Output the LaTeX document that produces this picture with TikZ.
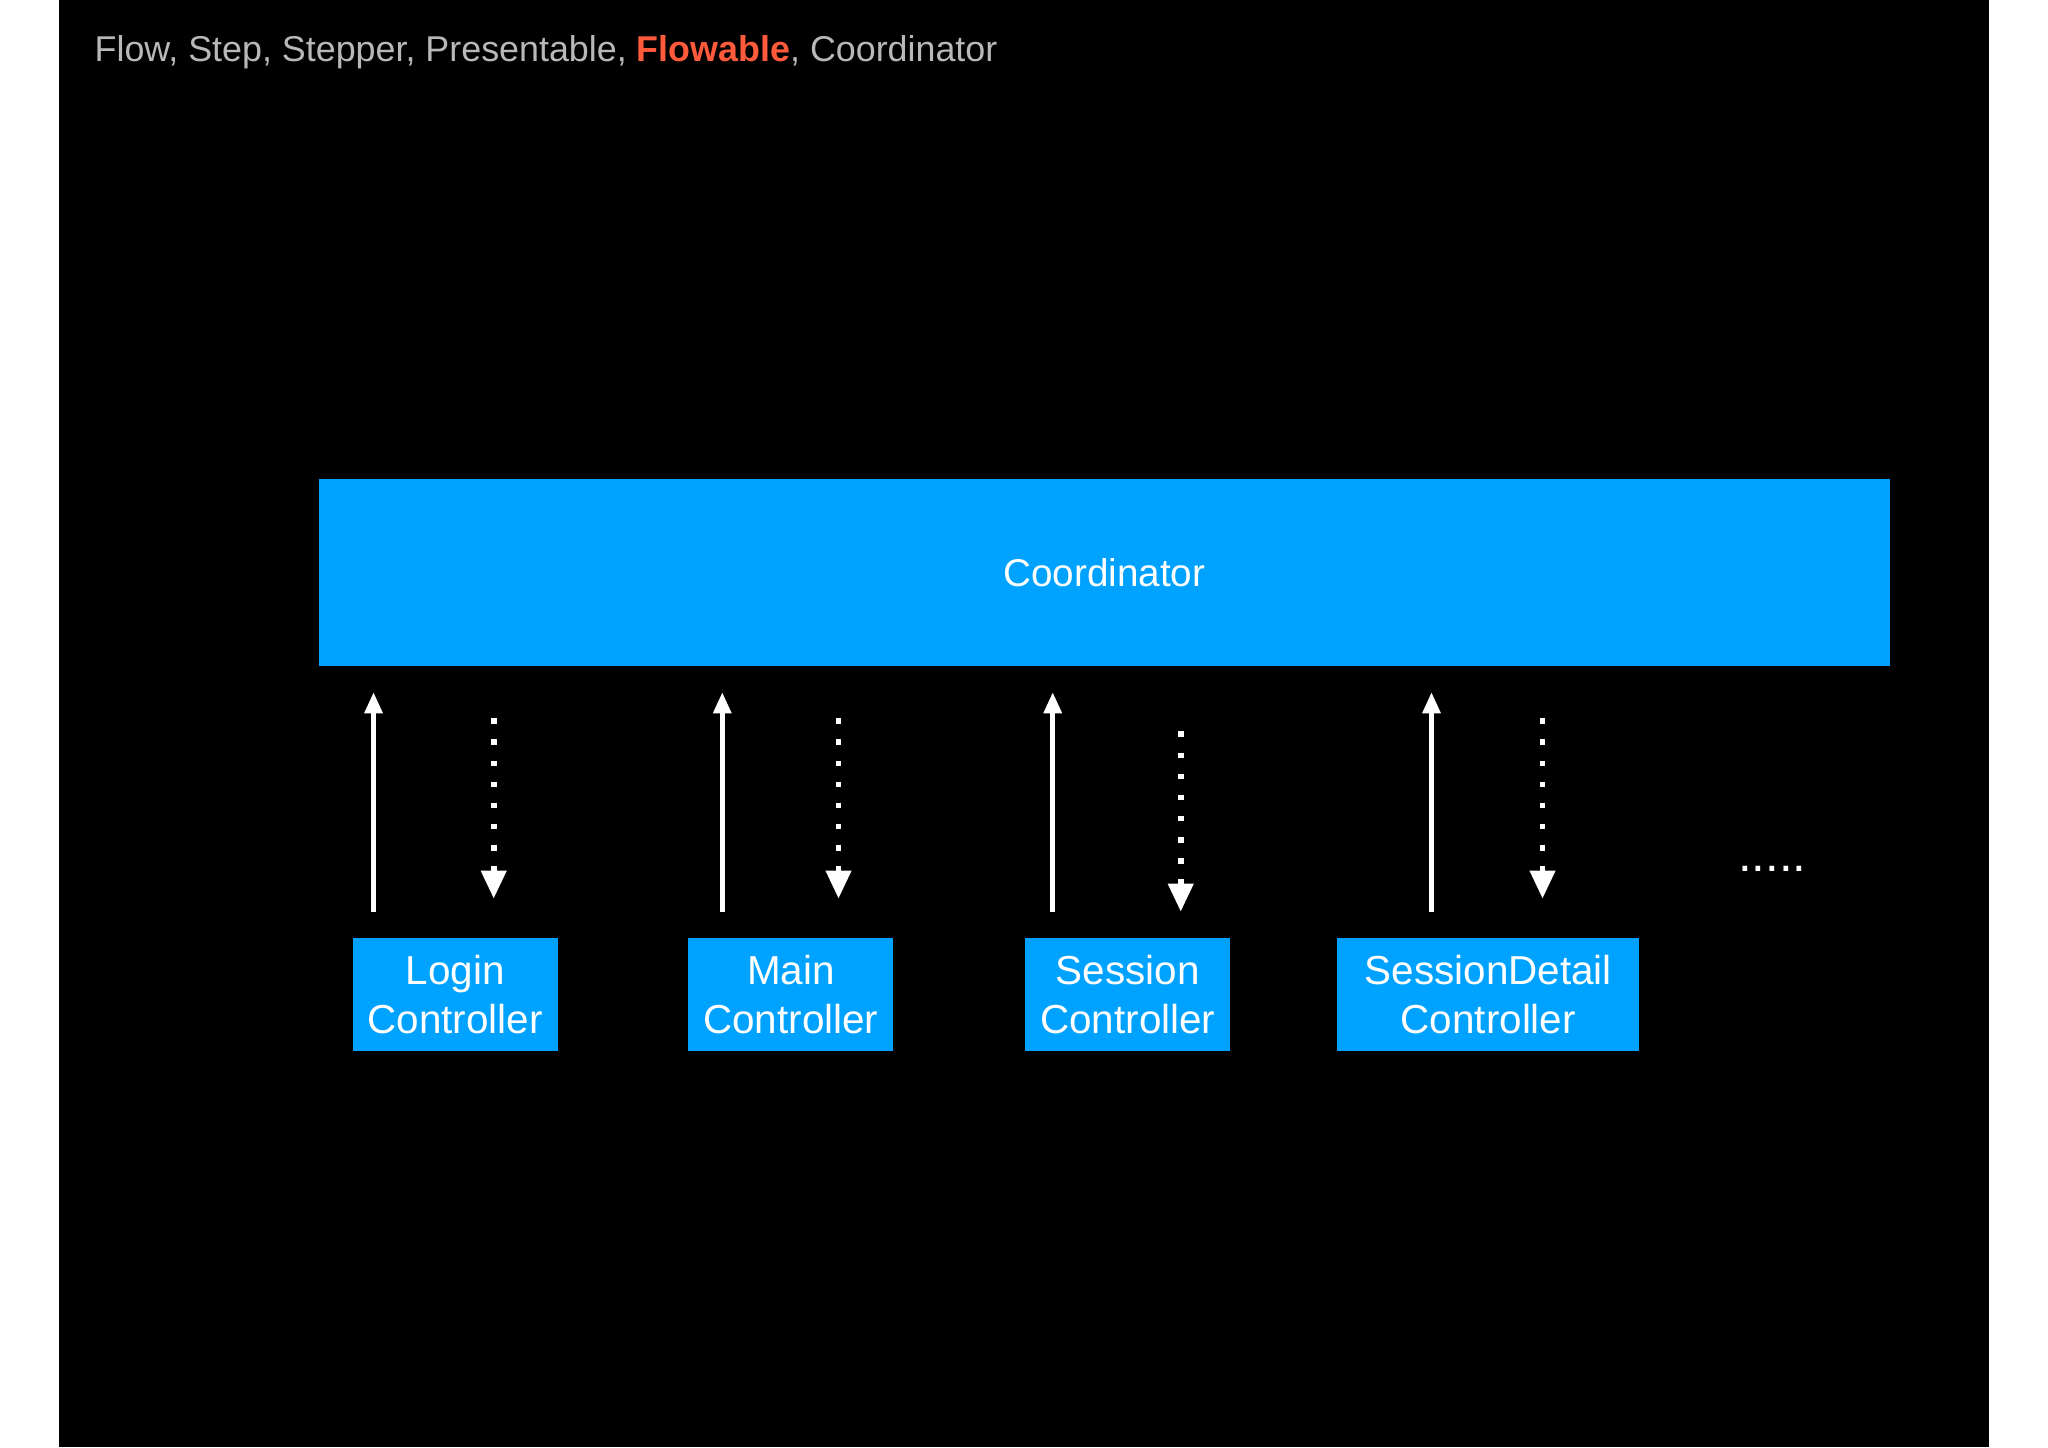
\documentclass[tikz,border=0pt]{standalone}
\usepackage{fontspec}
\setmainfont{Liberation Sans}
\usetikzlibrary{arrows.meta}
\definecolor{cblue}{HTML}{00A2FF}
\definecolor{tgray}{HTML}{B8B8B8}
\definecolor{tred}{HTML}{FF5A3C}
\begin{document}
\begin{tikzpicture}[x=0.01306cm,y=-0.01306cm,
 box/.style={fill=cblue,draw=none,inner sep=0,text=white,font=\fontsize{11.5pt}{14pt}\selectfont,align=center},
 up/.style={white,line width=1.3pt,-{Triangle[width=5pt,length=6pt]}},
 dn/.style={white,line width=1.6pt,dash pattern=on 1.6pt off 4.4pt,-{Triangle[width=7pt,length=8pt]}}]
\useasboundingbox (0,0) rectangle (1568,1108);
\fill[white] (0,0) rectangle (1568,1108);
\fill[black] (45,0) rectangle (1523,1108);
\node[anchor=west,text=tgray,font=\fontsize{10.2pt}{12pt}\selectfont] (title) at (63,40) {Flow, Step, Stepper, Presentable, \textcolor{tred}{\textbf{Flowable}}, Coordinator};
\node[box,minimum width=1203*0.01306cm,minimum height=143*0.01306cm,font=\fontsize{11pt}{13pt}\selectfont] (coord) at (845.5,438.5) {Coordinator};
\node[box,minimum width=157*0.01306cm,minimum height=87*0.01306cm] (login) at (348.5,761.5) {Login\\Controller};
\node[box,minimum width=157*0.01306cm,minimum height=87*0.01306cm] (main) at (605.5,761.5) {Main\\Controller};
\node[box,minimum width=157*0.01306cm,minimum height=87*0.01306cm] (sess) at (863.5,761.5) {Session\\Controller};
\node[box,minimum width=231*0.01306cm,minimum height=87*0.01306cm] (sd) at (1139.5,761.5) {SessionDetail\\Controller};
\foreach \n/\a/\b/\t in {l/286/378/550, m/553/642/550, s/806/904/560, d/1096/1181/550}{
  \coordinate (u\n1) at (\a,698); \coordinate (u\n2) at (\a,530);
  \coordinate (d\n1) at (\b,\t);
}
\coordinate (dl2) at (378,688); \coordinate (dm2) at (642,688);
\coordinate (ds2) at (904,698); \coordinate (dd2) at (1181,688);
\foreach \n in {l,m,s,d}{
  \draw[up] (u\n1) -- (u\n2);
  \draw[dn] (d\n1) -- (d\n2);
}
\node[text=white,font=\fontsize{14pt}{14pt}\selectfont] (dots) at (1357,665) {.....};
\end{tikzpicture}
\end{document}
